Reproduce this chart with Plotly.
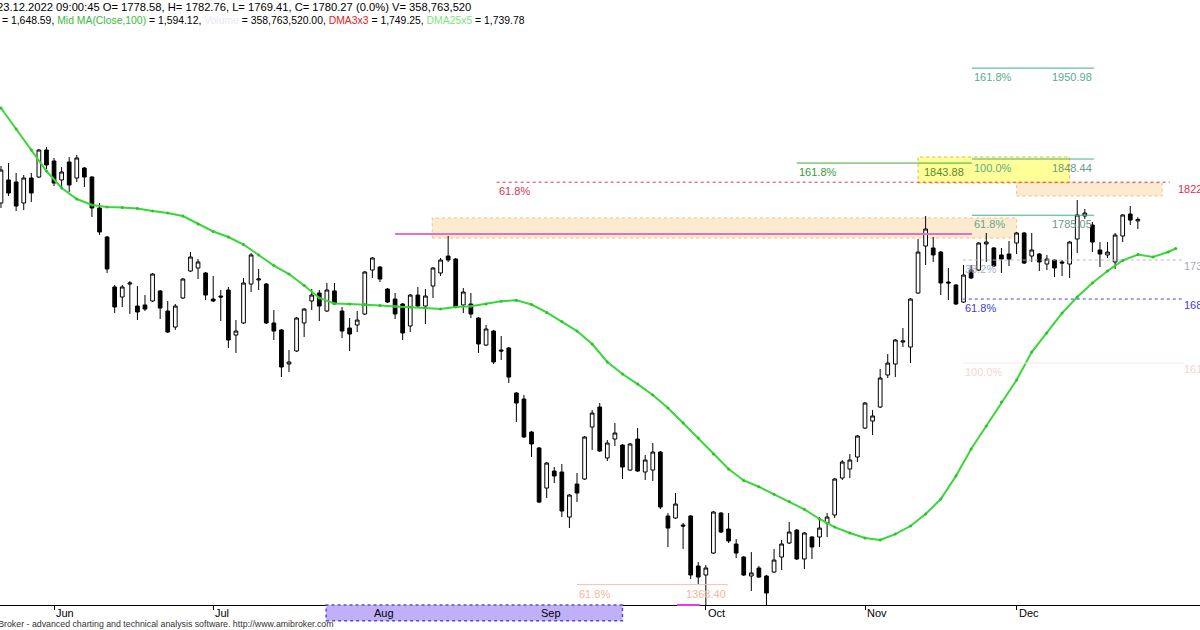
import plotly.graph_objects as go

# ---------------- data ----------------
opens = [1798.8, 1824.8, 1822.5, 1798.8, 1827.0, 1828.1, 1858.6, 1846.2, 1824.8, 1845.1,
         1827.0, 1838.3, 1828.1, 1793.2, 1760.5, 1704.1, 1692.8, 1707.4, 1682.6, 1683.8,
         1688.3, 1699.6, 1677.0, 1658.9, 1691.7, 1722.1, 1725.5, 1719.9, 1690.5, 1693.9,
         1700.7, 1649.9, 1663.5, 1707.4, 1712.0, 1707.4, 1663.5, 1655.6, 1617.2, 1631.9,
         1663.5, 1688.3, 1697.3, 1677.0, 1699.6, 1677.0, 1657.8, 1661.2, 1673.6, 1723.2,
         1726.6, 1701.8, 1690.5, 1684.9, 1660.1, 1695.0, 1682.6, 1705.2, 1719.9, 1739.0,
         1735.6, 1683.8, 1684.9, 1669.1, 1638.6, 1654.4, 1633.0, 1635.3, 1584.5, 1577.7,
         1540.5, 1522.5, 1477.3, 1496.5, 1495.4, 1444.6, 1481.8, 1487.5, 1546.1, 1568.7,
         1511.2, 1532.6, 1525.8, 1497.6, 1532.6, 1495.4, 1497.6, 1517.9, 1445.8, 1443.5,
         1435.6, 1445.8, 1389.4, 1379.2, 1404.0, 1449.1, 1431.1, 1414.2, 1399.5, 1378.1,
         1387.1, 1378.1, 1382.6, 1399.5, 1415.3, 1430.0, 1397.3, 1422.1, 1422.1, 1437.9,
         1446.9, 1488.6, 1498.8, 1512.3, 1545.0, 1552.9, 1568.7, 1604.8, 1617.2, 1642.0,
         1636.4, 1697.3, 1750.3, 1748.1, 1743.5, 1709.7, 1706.3, 1687.1, 1723.2, 1723.2,
         1752.6, 1748.1, 1740.2, 1741.3, 1753.7, 1765.0, 1739.0, 1741.3, 1730.0, 1734.5,
         1732.3, 1730.0, 1758.2, 1784.2, 1774.0, 1745.8, 1740.2, 1732.3, 1761.6, 1786.4,
         1778.58]
highs = [1840.6, 1843.9, 1832.7, 1830.4, 1832.7, 1859.7, 1862.0, 1849.6, 1839.4, 1850.7,
         1853.0, 1839.4, 1829.3, 1798.8, 1761.6, 1706.3, 1706.3, 1710.8, 1705.2, 1695.0,
         1719.9, 1700.7, 1688.3, 1684.9, 1714.2, 1743.5, 1735.6, 1721.0, 1716.5, 1700.7,
         1704.1, 1666.8, 1714.2, 1742.4, 1724.4, 1708.6, 1678.1, 1656.7, 1633.0, 1670.2,
         1680.4, 1701.8, 1700.7, 1708.6, 1708.6, 1681.5, 1669.1, 1677.0, 1722.1, 1737.9,
         1727.8, 1702.9, 1697.3, 1686.0, 1696.2, 1704.1, 1701.8, 1726.6, 1736.8, 1761.6,
         1736.8, 1702.9, 1697.3, 1670.2, 1661.2, 1655.6, 1648.8, 1636.4, 1585.6, 1582.2,
         1541.6, 1523.6, 1506.7, 1501.0, 1504.4, 1470.6, 1494.3, 1536.0, 1565.3, 1573.2,
         1531.5, 1550.7, 1527.0, 1528.1, 1545.0, 1514.6, 1528.1, 1519.1, 1449.1, 1471.7,
         1437.9, 1446.9, 1393.9, 1390.5, 1451.4, 1450.3, 1449.1, 1419.8, 1400.6, 1405.1,
         1389.4, 1379.2, 1408.5, 1418.7, 1439.0, 1431.1, 1427.7, 1423.2, 1444.6, 1449.1,
         1488.6, 1508.9, 1515.7, 1537.1, 1574.3, 1565.3, 1611.6, 1628.5, 1645.4, 1657.8,
         1691.7, 1758.2, 1784.2, 1760.5, 1744.7, 1725.5, 1707.4, 1728.9, 1728.9, 1754.8,
         1765.0, 1749.2, 1748.1, 1755.9, 1766.1, 1766.1, 1765.0, 1742.4, 1740.2, 1735.6,
         1734.5, 1755.9, 1802.2, 1792.0, 1777.4, 1754.8, 1754.8, 1765.0, 1786.4, 1795.4,
         1782.76]
lows = [1793.2, 1806.7, 1789.8, 1790.9, 1799.9, 1827.0, 1837.2, 1818.0, 1815.7, 1811.2,
        1822.5, 1816.9, 1783.0, 1762.7, 1719.9, 1674.7, 1681.5, 1673.6, 1666.8, 1677.0,
        1687.1, 1668.0, 1652.2, 1655.6, 1690.5, 1721.0, 1713.1, 1689.4, 1687.1, 1665.7,
        1635.3, 1629.6, 1662.3, 1698.4, 1700.7, 1662.3, 1644.3, 1602.5, 1608.2, 1630.7,
        1647.7, 1678.1, 1665.7, 1675.9, 1683.8, 1646.5, 1631.9, 1653.3, 1672.5, 1714.2,
        1709.7, 1686.0, 1668.0, 1644.3, 1653.3, 1681.5, 1662.3, 1691.7, 1716.5, 1732.3,
        1680.4, 1674.7, 1669.1, 1629.6, 1637.5, 1617.2, 1621.7, 1595.8, 1551.8, 1533.7,
        1512.3, 1460.4, 1466.1, 1483.0, 1444.6, 1432.2, 1461.5, 1486.4, 1520.2, 1517.9,
        1507.8, 1524.7, 1487.5, 1496.5, 1495.4, 1486.4, 1485.2, 1453.6, 1410.8, 1442.4,
        1408.5, 1374.7, 1369.0, 1340.0, 1402.9, 1426.6, 1415.3, 1398.4, 1378.1, 1361.2,
        1375.8, 1340.0, 1381.5, 1384.8, 1414.2, 1396.1, 1385.9, 1397.3, 1410.8, 1422.1,
        1443.5, 1486.4, 1488.6, 1506.7, 1543.9, 1537.1, 1567.6, 1601.4, 1602.5, 1636.4,
        1618.3, 1696.2, 1728.9, 1732.3, 1695.0, 1689.4, 1683.8, 1686.0, 1713.1, 1722.1,
        1732.3, 1726.6, 1719.9, 1727.8, 1741.3, 1730.0, 1732.3, 1722.1, 1723.2, 1715.3,
        1716.5, 1714.2, 1742.4, 1780.8, 1743.5, 1726.6, 1736.8, 1724.4, 1754.8, 1774.0,
        1769.41]
closes = [1836.0, 1810.1, 1795.4, 1827.0, 1810.1, 1858.6, 1841.7, 1821.4, 1833.8, 1819.1,
          1849.6, 1828.1, 1793.2, 1766.1, 1724.4, 1681.5, 1704.1, 1708.6, 1675.9, 1679.2,
          1718.7, 1680.4, 1653.3, 1682.6, 1713.1, 1737.9, 1732.3, 1695.0, 1688.3, 1692.8,
          1644.3, 1654.4, 1708.6, 1740.2, 1713.1, 1663.5, 1654.4, 1613.8, 1619.5, 1669.1,
          1679.2, 1695.0, 1682.6, 1700.7, 1684.9, 1654.4, 1651.0, 1666.8, 1721.0, 1736.8,
          1713.1, 1687.1, 1673.6, 1652.2, 1695.0, 1682.6, 1693.9, 1725.5, 1734.5, 1734.5,
          1681.5, 1698.4, 1673.6, 1639.8, 1656.7, 1619.5, 1631.9, 1602.5, 1573.2, 1534.9,
          1527.0, 1461.5, 1505.5, 1490.9, 1451.4, 1469.4, 1471.7, 1534.9, 1561.9, 1519.1,
          1528.1, 1539.4, 1501.0, 1527.0, 1496.5, 1508.9, 1517.9, 1455.9, 1432.2, 1459.3,
          1434.5, 1379.2, 1376.9, 1387.1, 1450.3, 1427.7, 1417.6, 1404.0, 1379.2, 1381.5,
          1376.9, 1358.9, 1396.1, 1414.2, 1427.7, 1397.3, 1426.6, 1410.8, 1432.2, 1444.6,
          1487.5, 1506.7, 1508.9, 1536.0, 1573.2, 1558.6, 1601.4, 1618.3, 1644.3, 1643.2,
          1690.5, 1743.5, 1769.5, 1740.2, 1708.6, 1708.6, 1684.9, 1717.6, 1714.2, 1753.7,
          1754.8, 1727.8, 1735.6, 1735.6, 1765.0, 1731.1, 1745.8, 1732.3, 1735.6, 1725.5,
          1731.1, 1754.8, 1785.3, 1787.5, 1754.8, 1741.3, 1743.5, 1762.7, 1785.3, 1779.6,
          1780.27]
bar_index = list(range(len(closes)))

# DMA25x5 (displaced 5 bars forward), sampled every 2 bars
ma_index = list(range(0, 156, 2)) + [155]
ma_values = [1906.0, 1882.3, 1858.6, 1834.9, 1815.7, 1803.3, 1796.6, 1794.3, 1793.7, 1792.6,
             1789.8, 1787.5, 1784.1, 1775.1, 1766.7, 1760.5, 1752.0, 1740.2, 1728.3, 1718.7,
             1705.8, 1691.7, 1685.4, 1684.9, 1684.3, 1683.2, 1682.1, 1681.5, 1680.4, 1679.2,
             1681.5, 1682.3, 1684.9, 1687.9, 1689.1, 1684.3, 1675.4, 1665.3, 1654.4, 1639.8,
             1619.5, 1605.9, 1594.6, 1582.2, 1567.6, 1550.7, 1533.7, 1515.7, 1498.8, 1485.9,
             1478.8, 1470.2, 1462.1, 1453.3, 1442.4, 1433.3, 1426.6, 1420.9, 1418.7, 1425.4,
             1434.5, 1448.0, 1464.9, 1490.9, 1521.3, 1547.3, 1574.3, 1599.2, 1630.7, 1652.2,
             1674.7, 1692.8, 1708.6, 1722.1, 1734.0, 1740.6, 1737.9, 1743.6, 1747.5]

month_labels = ["Jun", "Jul", "Aug", "Sep", "Oct", "Nov", "Dec"]
month_index = [7, 28, 49, 71, 93, 114, 134]

# Fibonacci / drawing levels: (price, start bar, end bar)
fib_top_level, fib_top_x = 1950.98, (128.1, 144.2)
fib_100_level, fib_100_x = 1848.44, (128.1, 144.2)
fib_green_level, fib_green_x = 1843.88, (105.0, 128.1)
fib_red_level, fib_red_x = 1822.3, (65.4, 154.2)
fib_6180_level, fib_6180_x = 1785.05, (128.1, 144.2)
pink_level, pink_x = 1763.8, (52.0, 128.1)
fib_382_level = 1734.5
fib_618b_level = 1690.5
fib_1000b_level = 1618.3
fib_right_x = (126.9, 156.0)
fib_low_level, fib_low_x = 1368.40, (76.0, 95.9)
yellow_box = (121.0, 141.0, 1821.4, 1850.7)
peach_small = (134.0, 153.2, 1806.7, 1821.4)
peach_big = (56.9, 134.0, 1759.3, 1781.9)

# ---------------- figure ----------------
FONT = "Arial, Liberation Sans, sans-serif"
fig = go.Figure()

fig.add_trace(go.Candlestick(
    x=bar_index, open=opens, high=highs, low=lows, close=closes,
    increasing=dict(line=dict(color="black", width=1), fillcolor="white"),
    decreasing=dict(line=dict(color="black", width=1), fillcolor="black"),
    whiskerwidth=0, showlegend=False, hoverinfo="skip"))

fig.add_trace(go.Scatter(
    x=ma_index, y=ma_values, mode="lines+markers",
    line=dict(color="#3ad63a", width=2), marker=dict(size=3, color="#2fc02f"),
    showlegend=False, hoverinfo="skip"))

shapes = []
def hline(level, xr, color, width=1, dash="solid"):
    shapes.append(dict(type="line", xref="x", yref="y", x0=xr[0], x1=xr[1], y0=level, y1=level,
                       line=dict(color=color, width=width, dash=dash), layer="above"))

def box(b, fill, border):
    shapes.append(dict(type="rect", xref="x", yref="y", x0=b[0], x1=b[1], y0=b[2], y1=b[3],
                       fillcolor=fill, line=dict(color=border, width=1, dash="dot"), layer="below"))

box(peach_big, "rgba(253,232,200,0.85)", "#f0c080")
box(yellow_box, "rgba(255,255,140,0.9)", "#f0b040")
box(peach_small, "rgba(253,232,200,0.85)", "#f0c080")

hline(fib_top_level, fib_top_x, "#40b08a")
hline(fib_green_level, fib_green_x, "#3aa83a")
hline(fib_100_level, fib_100_x, "#40b08a")
hline(fib_red_level, fib_red_x, "#e03050", dash="dot")
hline(pink_level, pink_x, "#e070c8", width=2)
hline(fib_6180_level, fib_6180_x, "#40b08a")
hline(fib_382_level, fib_right_x, "#b8b8c8", dash="dot")
hline(fib_618b_level, fib_right_x, "#4040d0", dash="dot")
hline(fib_1000b_level, fib_right_x, "#f8e4e4")
hline(fib_low_level, fib_low_x, "#f4c0b0")

# axis-area decorations
shapes.append(dict(type="rect", xref="x", yref="paper", x0=42.9, x1=82.0, y0=-0.026, y1=0.0,
                   fillcolor="#c0b0f8", line=dict(color="#5a48d0", width=1.5, dash="dot"), layer="above"))
shapes.append(dict(type="line", xref="x", yref="paper", x0=89.2, x1=92.2, y0=0.0, y1=0.0,
                   line=dict(color="#e040e0", width=2)))

annotations = []
def label(x, level, text, color, anchor="left"):
    annotations.append(dict(x=x, y=level, xref="x", yref="y", text=text, showarrow=False,
                            xanchor=anchor, yanchor="top", yshift=-1,
                            font=dict(family=FONT, size=11, color=color)))

label(fib_top_x[0], fib_top_level, "161.8%", "#5aaa8e")
label(fib_top_x[1], fib_top_level, "1950.98", "#5aaa8e", "right")
label(fib_green_x[0], fib_green_level, "161.8%", "#3a9a3a")
label(121.5, fib_green_level, "1843.88", "#5a8a2a")
label(fib_100_x[0], fib_100_level, "100.0%", "#5aaa8e")
label(fib_100_x[1], fib_100_level, "1848.44", "#6a9a8a", "right")
label(fib_red_x[0], fib_red_level, "61.8%", "#e03050")
label(155.0, fib_red_level + 3, "1822.39", "#e03050")
label(fib_6180_x[0], fib_6180_level, "61.8%", "#5aaa8e")
label(fib_6180_x[1], fib_6180_level, "1785.05", "#6a9a8a", "right")
label(fib_right_x[0], fib_382_level, "38.2%", "#a8b0cc")
label(155.8, fib_382_level + 3, "1734.52", "#a8a8b8")
label(fib_right_x[0], fib_618b_level, "61.8%", "#4040d0")
label(155.8, fib_618b_level + 3, "1689.63", "#4040d0")
label(fib_right_x[0], fib_1000b_level, "100.0%", "#f6d4d4")
label(155.8, fib_1000b_level + 3, "1618.31", "#f6d4d4")
label(fib_low_x[0], fib_low_level, "61.8%", "#f4b89c")
label(fib_low_x[1], fib_low_level, "1368.40", "#f4b89c", "right")

for lab, idx in zip(month_labels, month_index):
    annotations.append(dict(x=idx, y=-0.0135, xref="x", yref="paper", text=lab, showarrow=False,
                            xanchor="left", yanchor="middle", xshift=0,
                            font=dict(family=FONT, size=11, color="black")))

header1 = "23.12.2022 09:00:45 O= 1778.58, H= 1782.76, L= 1769.41, C= 1780.27 (0.0%) V= 358,763,520"
header2 = ("= 1,648.59, <span style='color:#3cb83c'>Mid MA(Close,100)</span> = 1,594.12, "
           "<span style='color:#e8e8f4'>Volume</span> = 358,763,520.00, "
           "<span style='color:#e82020'>DMA3x3</span> = 1,749.25, "
           "<span style='color:#80e080'>DMA25x5</span> = 1,739.78")
annotations.append(dict(x=0, y=1 - 7 / 605, xref="paper", yref="paper", text=header1, showarrow=False,
                        xanchor="left", yanchor="middle", xshift=-5,
                        font=dict(family=FONT, size=11.2, color="black")))
annotations.append(dict(x=0, y=1 - 20 / 605, xref="paper", yref="paper", text=header2, showarrow=False,
                        xanchor="left", yanchor="middle", xshift=0,
                        font=dict(family=FONT, size=10.4, color="black")))
annotations.append(dict(x=0, y=-0.032, xref="paper", yref="paper",
                        text="AmiBroker - advanced charting and technical analysis software. http://www.amibroker.com",
                        showarrow=False, xanchor="left", yanchor="middle", xshift=-19,
                        font=dict(family=FONT, size=8.8, color="#333333")))

fig.update_layout(
    width=1200, height=630,
    margin=dict(l=0, r=0, t=0, b=25),
    paper_bgcolor="white", plot_bgcolor="white",
    shapes=shapes, annotations=annotations,
    xaxis=dict(range=[-0.13, 158.2], showgrid=False, zeroline=False, rangeslider=dict(visible=False),
               showline=True, linecolor="black", linewidth=1,
               tickvals=month_index, ticktext=[""] * len(month_index),
               ticks="outside", ticklen=4, tickcolor="black"),
    yaxis=dict(range=[1345.4, 2027.8], showgrid=False, zeroline=False, showticklabels=False,
               showline=False),
)

fig.write_html("out.html", config={"displayModeBar": False},
               post_script="document.body.style.margin='0';document.body.style.padding='0';"
                           "document.body.style.overflow='hidden';")
